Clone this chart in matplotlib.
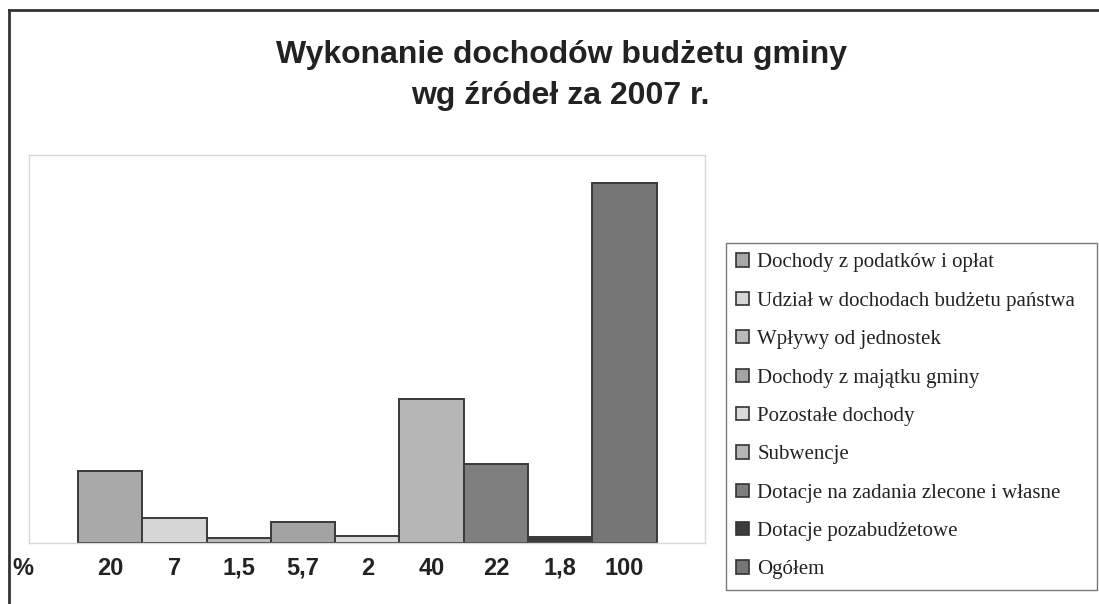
import matplotlib
matplotlib.use("Agg")
import matplotlib.pyplot as plt
from matplotlib.patches import Patch
from matplotlib.lines import Line2D

# ---- data ----
series = ["Dochody z podatków i opłat",
          "Udział w dochodach budżetu państwa",
          "Wpływy od jednostek",
          "Dochody z majątku gminy",
          "Pozostałe dochody",
          "Subwencje",
          "Dotacje na zadania zlecone i własne",
          "Dotacje pozabudżetowe",
          "Ogółem"]
values = [20, 7, 1.5, 5.7, 2, 40, 22, 1.8, 100]
value_labels = ["20", "7", "1,5", "5,7", "2", "40", "22", "1,8", "100"]
colors = ["#a9a9a9", "#d6d6d6", "#b9b9b9", "#a3a3a3", "#d9d9d9",
          "#b6b6b6", "#7e7e7e", "#3c3c3c", "#767676"]

W, H = 1099, 604
fig = plt.figure(figsize=(W / 100, H / 100), dpi=100)
fig.patch.set_facecolor("white")

# outer frame (left and top)
fig.add_artist(Line2D([9 / W, 9 / W], [0, 1 - 10 / H], transform=fig.transFigure,
                      color="#333333", lw=2))
fig.add_artist(Line2D([9 / W, 1], [1 - 10 / H, 1 - 10 / H], transform=fig.transFigure,
                      color="#333333", lw=2))

ax = fig.add_axes([29 / W, 1 - 543 / H, (705 - 29) / W, (543 - 155) / H])
x = list(range(len(values)))
bars = ax.bar(x, values, width=1.0, color=colors, edgecolor="#3a3a3a", linewidth=1.4)
ax.set_xlim(-1.26, 9.25)
ax.set_ylim(0, 107.8)
ax.set_yticks([])
ax.set_xticks(x)
ax.set_xticklabels(value_labels, fontfamily="Liberation Sans", fontweight="bold",
                   fontsize=17, color="#222222")
for t in ax.get_xticklabels():
    t.set_verticalalignment("baseline")
ax.tick_params(axis="x", length=0, pad=23)
for s in ax.spines.values():
    s.set_color("#d8d8d8")
    s.set_linewidth(1.0)

fig.text(12 / W, 1 - 575 / H, "%", fontfamily="Liberation Sans", fontweight="bold",
         fontsize=17, color="#222222", ha="left", va="baseline")

# title
fig.text(562 / W, 1 - 63 / H, "Wykonanie dochodów budżetu gminy",
         fontfamily="Liberation Sans", fontweight="bold", fontsize=23,
         color="#222222", ha="center", va="baseline")
fig.text(560 / W, 1 - 104 / H, "wg źródeł za 2007 r.",
         fontfamily="Liberation Sans", fontweight="bold", fontsize=23,
         color="#222222", ha="center", va="baseline")

# legend
handles = [Patch(facecolor=c, edgecolor="#333333", linewidth=1.2) for c in colors]
leg = fig.legend(handles, series, loc="upper left",
                 bbox_to_anchor=(726 / W, 1 - 589 / H, (1097 - 726) / W, (589 - 243) / H),
                 mode="expand", borderaxespad=0,
                 prop={"family": "Liberation Serif", "size": 15},
                 handlelength=0.6, handleheight=0.6, handletextpad=0.4,
                 labelspacing=0.93, borderpad=0.5, frameon=True, fancybox=False)
leg.get_frame().set_edgecolor("#555555")
leg.get_frame().set_linewidth(1.0)
for t in leg.get_texts():
    t.set_color("#222222")

fig.savefig("out.png", dpi=100)
